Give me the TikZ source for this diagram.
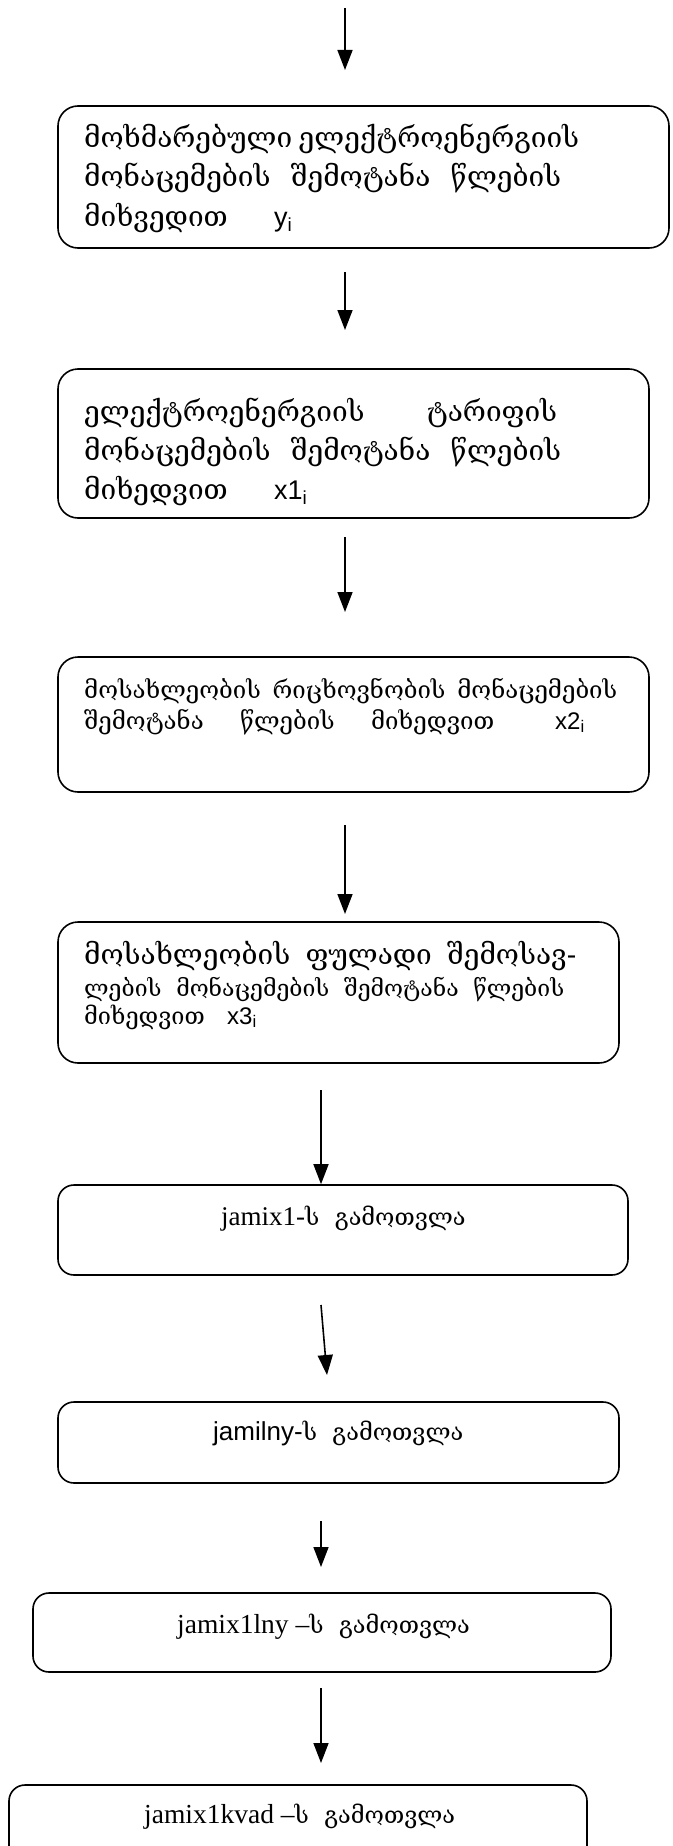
\documentclass[tikz,border=0pt]{standalone}
\usepackage{fontspec}
\setmainfont{Liberation Serif}
\newfontfamily\geo{DejaVu Serif}
\newfontfamily\arial{Liberation Sans}
\usetikzlibrary{arrows.meta}

\tikzset{
  box/.style={draw, line width=1.6pt, rounded corners=20pt, inner sep=0pt},
  smallbox/.style={box, rounded corners=16pt},
  flow/.style={line width=1.6pt, -{Triangle[width=15pt,length=20pt]}},
  txt/.style={anchor=base west, inner sep=0pt},
}
\newcommand{\gsize}[1]{\fontsize{#1}{#1}\selectfont}

\begin{document}
\begin{tikzpicture}[x=1pt,y=-1pt]
\useasboundingbox (0,0) rectangle (672,1846);

% process boxes
\node[box, minimum width=611pt, minimum height=142pt] (b1) at (363.5,177) {};
\node[box, minimum width=591pt, minimum height=149pt] (b2) at (353.5,443.5) {};
\node[box, minimum width=591pt, minimum height=135pt] (b3) at (353.5,724.5) {};
\node[box, minimum width=561pt, minimum height=141pt] (b4) at (338.5,992.5) {};
\node[smallbox, minimum width=570pt, minimum height=90pt] (b5) at (343,1230) {};
\node[smallbox, minimum width=561pt, minimum height=81pt] (b6) at (338.5,1442.5) {};
\node[smallbox, minimum width=578pt, minimum height=79pt] (b7) at (322,1632.5) {};
\node[smallbox, minimum width=578pt, minimum height=110pt] (b8) at (298,1840) {};

% box texts
\node[txt] (t1a) at (84,148) {\geo\gsize{28}\makebox[495pt][s]{მოხმარებული ელექტროენერგიის}};
\node[txt] (t1b) at (84,187) {\geo\gsize{28}\makebox[477pt][s]{მონაცემების შემოტანა წლების}};
\node[txt] (t1c) at (84,226) {\geo\gsize{28}მიხვედით};
\node[txt] (t1d) at (274,226) {\arial\gsize{27}y\textsubscript{i}};

\node[txt] (t2a) at (84,421) {\geo\gsize{28}\makebox[473pt][s]{ელექტროენერგიის ტარიფის}};
\node[txt] (t2b) at (84,460) {\geo\gsize{28}\makebox[477pt][s]{მონაცემების შემოტანა წლების}};
\node[txt] (t2c) at (84,499) {\geo\gsize{28}მიხედვით};
\node[txt] (t2d) at (274,499) {\arial\gsize{27}x1\textsubscript{i}};

\node[txt] (t3a) at (84,698) {\geo\gsize{24}\makebox[533pt][s]{მოსახლეობის რიცხოვნობის მონაცემების}};
\node[txt] (t3b) at (84,729) {\geo\gsize{24}\makebox[410pt][s]{შემოტანა წლების მიხედვით}};
\node[txt] (t3c) at (555,729) {\arial\gsize{24}x2\textsubscript{i}};

\node[txt] (t4a) at (84,964) {\geo\gsize{28}\makebox[492pt][s]{მოსახლეობის ფულადი შემოსავ-}};
\node[txt] (t4b) at (84,996) {\geo\gsize{23}\makebox[480pt][s]{ლების მონაცემების შემოტანა წლების}};
\node[txt] (t4c) at (84,1024) {\geo\gsize{23.5}მიხედვით};
\node[txt] (t4d) at (227,1024) {\arial\gsize{24}x3\textsubscript{i}};

\node[txt] (t5) at (221,1225) {\gsize{27}jamix1-\geo\gsize{23.5}ს\hspace{8pt} გამოთვლა};
\node[txt] (t6) at (213,1440) {\arial\gsize{26}jamilny-\geo\gsize{23.5}ს\hspace{8pt} გამოთვლა};
\node[txt] (t7) at (177,1633) {\gsize{27.5}jamix1lny –\geo\gsize{23.5}ს\hspace{8pt} გამოთვლა};
\node[txt] (t8) at (144,1823) {\gsize{27.5}jamix1kvad –\geo\gsize{23.5}ს\hspace{8pt} გამოთვლა};

% connectors
\coordinate (a1s) at (345,8);    \coordinate (a1e) at (345,70);
\coordinate (a2s) at (345,272);  \coordinate (a2e) at (345,330);
\coordinate (a3s) at (345,537);  \coordinate (a3e) at (345,612);
\coordinate (a4s) at (345,825);  \coordinate (a4e) at (345,914);
\coordinate (a5s) at (321,1090);
\coordinate (a6s) at (321,1305); \coordinate (a6e) at (327,1375);
\coordinate (a7s) at (321,1521); \coordinate (a7e) at (321,1567);
\coordinate (a8s) at (321,1688); \coordinate (a8e) at (321,1763);

\draw[flow] (a1s) -- (a1e);
\draw[flow] (a2s) -- (a2e);
\draw[flow] (a3s) -- (a3e);
\draw[flow] (a4s) -- (a4e);
\draw[flow] (a5s) -- (a5s |- b5.north);
\draw[flow] (a6s) -- (a6e);
\draw[flow] (a7s) -- (a7e);
\draw[flow] (a8s) -- (a8e);
\end{tikzpicture}
\end{document}
